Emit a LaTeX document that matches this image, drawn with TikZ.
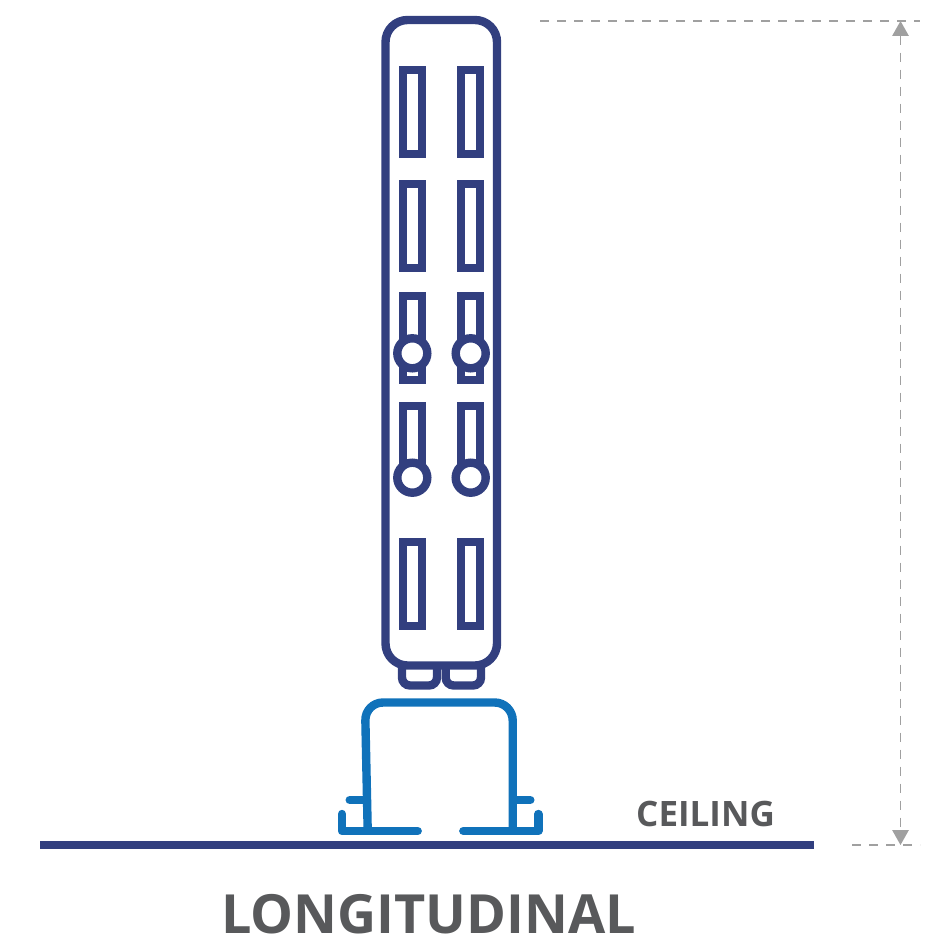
\documentclass[tikz,border=0pt]{standalone}
\usepackage{fontspec}
\setmainfont{Open Sans}
\usetikzlibrary{arrows.meta}
\definecolor{navy}{HTML}{323F7F}
\definecolor{hatblue}{HTML}{1072BA}
\definecolor{dimgray}{HTML}{A0A0A0}
\definecolor{txtgray}{HTML}{58595B}
\tikzset{
  navyline/.style={draw=navy,line width=8.4pt},
  blueline/.style={draw=hatblue,line width=8.4pt},
  slotbox/.style={draw=navy,line width=8pt,miter limit=10},
  boltring/.style={draw=navy,line width=8.4pt,fill=white,circle,minimum size=30pt,inner sep=0pt},
  dimline/.style={draw=dimgray,line width=1.4pt,dash pattern=on 9pt off 8pt},
  dimarrow/.style={draw=dimgray,line width=1.4pt,dash pattern=on 9pt off 8pt,{Triangle[width=16.5pt,length=15pt,fill=dimgray]}-{Triangle[width=16.5pt,length=15pt,fill=dimgray]}},
  caption/.style={text=txtgray,inner sep=0pt,anchor=base west}
}
\begin{document}
\begin{tikzpicture}[x=1pt,y=-1pt]
\useasboundingbox (0,0) rectangle (933,936);
% feet
\draw[navyline,rounded corners=8pt] (402,660) -- (402,685.5) -- (437,685.5) -- (437,660);
\draw[navyline,rounded corners=8pt] (445.7,660) -- (445.7,685.5) -- (481,685.5) -- (481,660);
% body
\draw[navyline,fill=white,rounded corners=22pt] (385.5,20) rectangle (497,665.5);
% slots
\foreach \ya/\yb in {70/154,184/268,296/380,406/478,542/626}{
  \draw[slotbox] (403,\ya) rectangle (421.7,\yb);
  \draw[slotbox] (461.3,\ya) rectangle (480.3,\yb);
}
% bolts
\node[boltring] (b1) at (412.3,353.3) {};
\node[boltring] (b2) at (470.7,353.3) {};
\node[boltring] (b3) at (412.3,477.7) {};
\node[boltring] (b4) at (470.7,477.7) {};
% hat channel
\draw[blueline,rounded corners=18pt] (367.7,831) -- (365,702.5) -- (512.7,702.5) -- (512.7,831);
\draw[blueline,line cap=round,line join=round] (342,814) -- (342,831) -- (417.7,831);
\draw[blueline,line cap=round,line join=round] (538.3,814) -- (538.3,831) -- (463.3,831);
\draw[blueline,line cap=round] (349.7,800) -- (366,800);
\draw[blueline,line cap=round] (530.3,800) -- (514,800);
% ceiling
\draw[navyline] (40,845) -- (814,845);
% dimension
\draw[dimline] (540,21) -- (920,21);
\draw[dimline] (852,845) -- (920,845);
\coordinate (dimtop) at (900.5,21);
\coordinate (dimbot) at (900.5,845);
\draw[dimarrow] (dimtop) -- (dimbot);
% labels
\node[caption,font=\bfseries\fontsize{35}{35}\selectfont] (ceil) at (636,826) {CEILING};
\node[caption,font=\bfseries\fontsize{54}{54}\selectfont] (lon) at (221,933) {LONGITUDINAL};
\end{tikzpicture}
\end{document}
